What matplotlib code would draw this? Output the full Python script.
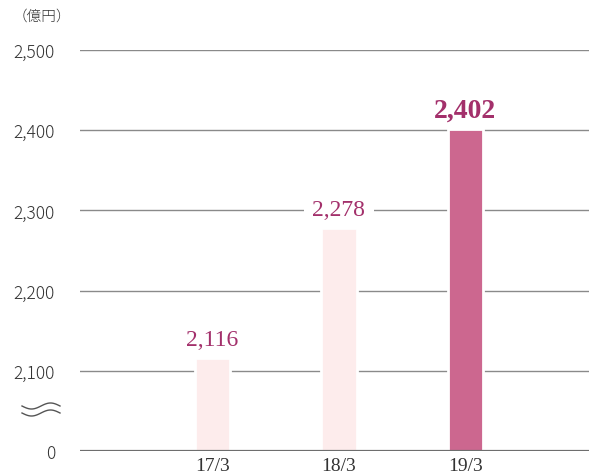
import numpy as np
import matplotlib.pyplot as plt

plt.rcParams['font.family'] = ['Noto Sans CJK JP', 'DejaVu Sans']

periods = ["17/3", "18/3", "19/3"]
values = [2116, 2278, 2402]
bar_colors = ["#fdecec", "#fdecec", "#cc678f"]
yticks = [2000, 2100, 2200, 2300, 2400, 2500]
ytick_labels = ["0", "2,100", "2,200", "2,300", "2,400", "2,500"]
base = 2000  # axis is broken between 0 and 2,100

fig = plt.figure(figsize=(5.89, 4.77), dpi=100)
ax = fig.add_axes([80 / 589, 25 / 477, 509 / 589, 401 / 477])

x = np.arange(len(periods))
ax.set_xlim(-1.05, 2.98)
ax.set_ylim(base, 2500)

for yv in yticks[1:]:
    ax.axhline(yv, color="#8a8a8a", lw=1.0, zorder=1)
ax.axhline(base, color="#6e6e6e", lw=1.6, zorder=4)

heights = [v - base for v in values]
ax.bar(x, heights, bottom=base, width=0.28, color=bar_colors,
       edgecolor="white", linewidth=2.0, zorder=2)

for i, v in enumerate(values):
    last = i == len(values) - 1
    ax.annotate(f"{v:,}", (x[i], v), xytext=(0, 13), textcoords="offset points",
                ha="center", va="center", color="#a3306b",
                family="Liberation Serif", fontsize=20 if last else 17,
                fontweight="bold" if last else "normal",
                bbox=dict(facecolor="white", edgecolor="none", pad=2 if last else 6),
                zorder=3)

ax.set_yticks(yticks)
ax.set_yticklabels(ytick_labels, fontsize=12.5, color="#333333", fontweight="light")
ax.set_xticks(x)
ax.set_xticklabels(periods, family="Liberation Serif", fontsize=14, color="#333333")
ax.tick_params(length=0, axis="y", pad=18)
ax.tick_params(length=0, axis="x", pad=4)
for s in ax.spines.values():
    s.set_visible(False)

fig.text(13 / 589, 1 - 17 / 477, "（億円）", fontsize=10.5, color="#333333",
         ha="left", va="center", fontweight="light")

# axis break mark
t = np.linspace(0, 1, 60)
for dy in (0, 7):
    xs = (22 + 38 * t) / 589
    ys = 1 - (407 + dy + 3 * np.sin(2 * np.pi * t)) / 477
    fig.add_artist(plt.Line2D(xs, ys, color="#555555", lw=1.0))

fig.savefig("out.png", dpi=100)
